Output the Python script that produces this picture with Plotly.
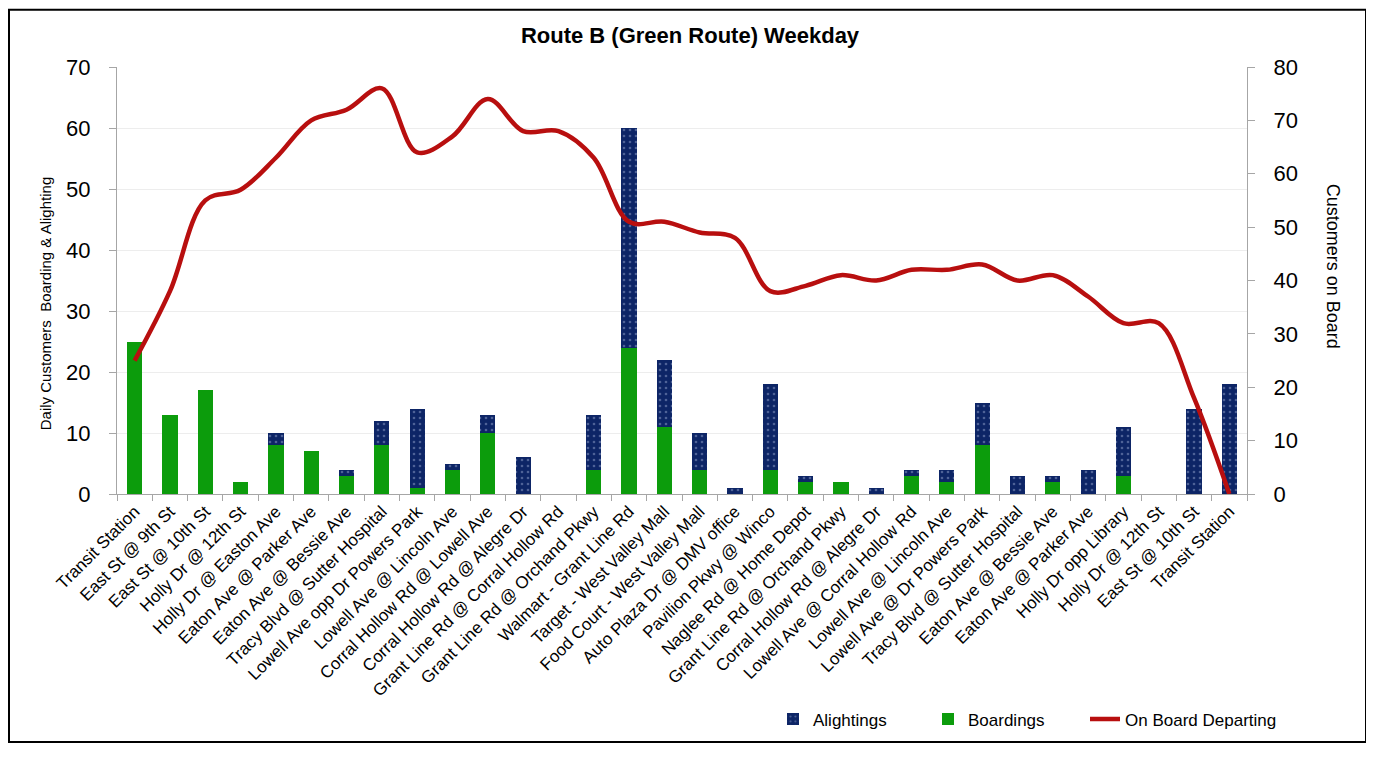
import plotly.graph_objects as go

stops = [
    "Transit Station", "East St @ 9th St", "East St @ 10th St", "Holly Dr @ 12th St",
    "Holly Dr @ Easton Ave", "Eaton Ave @ Parker Ave", "Eaton Ave @ Bessie Ave",
    "Tracy Blvd @ Sutter Hospital", "Lowell Ave opp Dr Powers Park", "Lowell Ave @ Lincoln Ave",
    "Corral Hollow Rd @ Lowell Ave", "Corral Hollow Rd @ Alegre Dr", "Grant Line Rd @ Corral Hollow Rd",
    "Grant Line Rd @ Orchand Pkwy", "Walmart - Grant Line Rd", "Target - West Valley Mall",
    "Food Court - West Valley Mall", "Auto Plaza Dr @ DMV office", "Pavilion Pkwy @ Winco",
    "Naglee Rd @ Home Depot", "Grant Line Rd @ Orchand Pkwy", "Corral Hollow Rd @ Alegre Dr",
    "Lowell Ave @ Corral Hollow Rd", "Lowell Ave @ Lincoln Ave", "Lowell Ave @ Dr Powers Park",
    "Tracy Blvd @ Sutter Hospital", "Eaton Ave @ Bessie Ave", "Eaton Ave @ Parker Ave",
    "Holly Dr opp Library", "Holly Dr @ 12th St", "East St @ 10th St", "Transit Station",
]
boardings = [25, 13, 17, 2, 8, 7, 3, 8, 1, 4, 10, 0, 0, 4, 24, 11, 4, 0, 4, 2, 2, 0, 3, 2, 8, 0, 2, 0, 3, 0, 0, 0]
alightings = [0, 0, 0, 0, 2, 0, 1, 4, 13, 1, 3, 6, 0, 9, 36, 11, 6, 1, 14, 1, 0, 1, 1, 2, 7, 3, 1, 4, 8, 0, 14, 18]
on_board = [25, 38, 55, 57, 63, 70, 72, 76, 64, 67, 74, 68, 68, 63, 51, 51, 49, 48, 38, 39, 41, 40, 42, 42, 43, 40, 41, 37, 32, 32, 18, 0]

x = list(range(len(stops)))
FONT = "Liberation Sans, Arial, sans-serif"

# page body has an 8px margin; work in reference-image pixels and convert
OFF = 8
W, H = 1374 - 2 * OFF, 757 - OFF - 7
L_ref, R_ref, T_ref, B_ref = 117, 1247, 67, 499
L, T = L_ref - OFF, T_ref - OFF
pw, ph = R_ref - L_ref, B_ref - T_ref


def px(v):
    return (v - L_ref) / pw


def py(v):
    return (B_ref - v) / ph


fig = go.Figure()
fig.add_trace(go.Bar(
    x=x, y=boardings, name="Boardings", marker=dict(color="#0c9c0c", line=dict(width=0)),
    legend="legend3", showlegend=True,
))
fig.add_trace(go.Bar(
    x=x, y=alightings, name="Alightings",
    marker=dict(color="#0d2566", line=dict(width=0),
                pattern=dict(shape=".", fgcolor="#8fa0c8", bgcolor="#0d2566", size=6, solidity=0.15)),
    legend="legend2", showlegend=True,
))
fig.add_trace(go.Scatter(
    x=x, y=on_board, name="On Board Departing", yaxis="y2", mode="lines",
    line=dict(color="#b80f0f", width=4.5, shape="spline", smoothing=1.0),
    legend="legend4", showlegend=True,
))


def leg(xref_px):
    return dict(orientation="h", x=px(xref_px), xanchor="left", y=py(727), yanchor="middle",
                font=dict(size=17, family=FONT), itemwidth=30, bgcolor="rgba(0,0,0,0)")


fig.update_layout(
    width=W, height=H,
    margin=dict(l=L, r=W - L - pw, t=T, b=H - T - ph),
    paper_bgcolor="white", plot_bgcolor="white",
    barmode="stack", bargap=0.57, showlegend=True,
    font=dict(family=FONT, color="#000000"),
    title=dict(text="<b>Route B (Green Route) Weekday</b>", x=px(690), xanchor="center",
               xref="paper", y=1 - (35 - OFF) / H, yanchor="middle", font=dict(size=22, family=FONT)),
    xaxis=dict(
        range=[-0.5, len(stops) - 0.5], tickvals=x, ticktext=stops, tickangle=-45,
        tickfont=dict(size=17, family=FONT), ticks="", showgrid=False, zeroline=False,
        showline=True, linecolor="#a6a6a6", linewidth=1,
        minor=dict(tick0=0.5, dtick=1, ticks="outside", ticklen=6, tickcolor="#a6a6a6", showgrid=False),
    ),
    yaxis=dict(
        range=[0, 70], dtick=10, tickfont=dict(size=22, family=FONT),
        showgrid=True, gridcolor="#ededed", gridwidth=1, zeroline=False,
        showline=True, linecolor="#a6a6a6", linewidth=1, ticks="outside", ticklen=7, tickcolor="#a6a6a6",
        ticklabelstandoff=14,
    ),
    yaxis2=dict(
        range=[0, 80], dtick=10, overlaying="y", side="right", tickfont=dict(size=22, family=FONT),
        showgrid=False, zeroline=False, showline=True, linecolor="#a6a6a6", linewidth=1,
        ticks="outside", ticklen=7, tickcolor="#a6a6a6", ticklabelstandoff=14,
    ),
    legend2=leg(773),
    legend3=leg(928),
    legend4=leg(1085),
    annotations=[
        dict(text="Customers on Board", textangle=90, xref="paper", yref="paper",
             x=px(1333), y=py(268), xanchor="center", yanchor="middle", showarrow=False,
             font=dict(size=18, family=FONT)),
        dict(text="Daily Customers  Boarding & Alighting", textangle=-90, xref="paper", yref="paper",
             x=px(45), y=py(307), xanchor="center", yanchor="middle", showarrow=False,
             font=dict(size=15, family=FONT)),
    ],
    shapes=[dict(type="rect", xref="paper", yref="paper", x0=px(OFF + 1), x1=px(1366), y0=py(750), y1=py(OFF + 1),
                 line=dict(color="black", width=2), layer="below")],
)

fig.write_html("out.html")
